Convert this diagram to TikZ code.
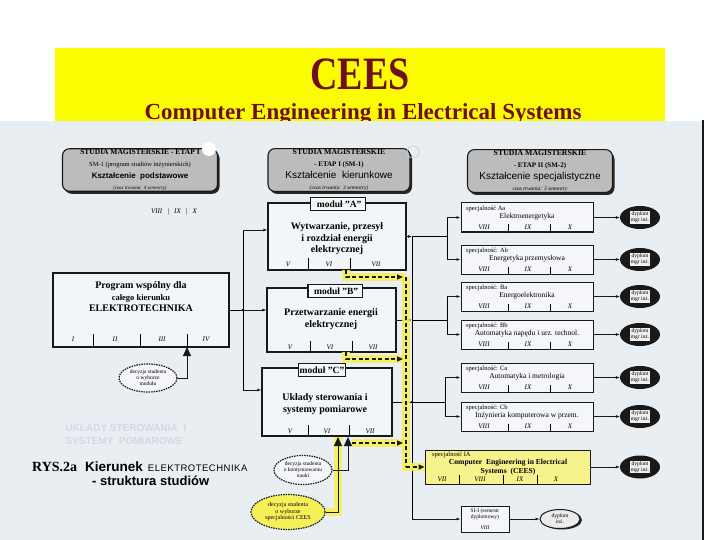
\documentclass[tikz,border=0pt]{standalone}
\usepackage{fontspec}
\setmainfont{Liberation Serif}
\setsansfont{Liberation Sans}
\usetikzlibrary{arrows.meta,shapes.geometric,shadows}
\definecolor{titlered}{RGB}{110,14,30}
\definecolor{slideyellow}{RGB}{252,252,0}
\definecolor{scanbg}{RGB}{233,238,243}
\definecolor{hlyellow}{RGB}{245,240,90}
\definecolor{iafill}{RGB}{246,242,140}
\definecolor{hdrgray}{RGB}{188,188,188}
\definecolor{ink}{RGB}{25,25,25}
\definecolor{faint}{RGB}{210,217,226}
\newcommand\fsz[2]{\fontsize{#1}{#2}\selectfont}
\tikzset{
  hdr/.style={draw=ink, line width=1.1pt, rounded corners=7pt, fill=hdrgray, align=center, inner sep=1pt,
    drop shadow={shadow xshift=2pt, shadow yshift=-2.5pt, fill=black!85, opacity=1}},
  modbox/.style={draw=ink, line width=1.2pt, fill=white!45!scanbg, inner sep=0pt},
  tabbox/.style={draw=ink, line width=1.2pt, fill=white!60!scanbg, font=\fsz{9.5}{10}\bfseries, inner sep=1.5pt, minimum height=13pt},
  modtxt/.style={font=\fsz{10}{11.5}\bfseries, align=center, inner sep=0pt},
  sem/.style={font=\fsz{7}{7.5}\itshape, inner sep=0pt},
  spec/.style={draw=ink, line width=1pt, fill=white!50!scanbg, minimum width=132pt, minimum height=29pt, inner sep=0pt},
  dipl/.style={ellipse, fill=ink, minimum width=40pt, minimum height=23pt, inner sep=0pt},
  dipllab/.style={fill=white!88!gray, font=\fsz{5.5}{6}, align=center, inner sep=0.8pt},
  dec/.style={ellipse, draw=ink, line width=1.2pt, dash pattern=on 1.5pt off 1pt, align=center, font=\fsz{5.5}{6}, inner sep=0pt, fill=white!50!scanbg},
  arr/.style={-{Latex[length=4pt,width=3pt]}, line width=0.6pt, draw=ink},
  bigarr/.style={-{Triangle[length=9pt,width=8pt]}, line width=0.9pt, draw=ink},
  glow/.style={line width=8pt, draw=hlyellow, opacity=0.9},
  dsh/.style={dash pattern=on 4pt off 2.5pt, line width=1.3pt, draw=ink},
  dsharr/.style={dsh, -{Triangle[length=6pt,width=5pt]}}
}
\newcommand\Spec[4]{%
  \node[spec] (#1) at (527,#2) {};
  \node[font=\fsz{6.5}{7}, anchor=west, inner sep=0pt] (#1t) at (466,#2-9) {#3};
  \node[font=\fsz{7.5}{8}, inner sep=0pt] (#1n) at (527,#2-1) {#4};
  \foreach \t/\x [count=\i] in {VIII/484,IX/528,X/570}
    \node[sem] (#1s\i) at (\x,#2+9.5) {\t};
  \draw[line width=0.5pt] (508,#2+14.5) -- (508,#2+7) (550,#2+14.5) -- (550,#2+7);
  \node[dipl] (#1d) at (640,#2) {};
  \node[dipllab] (#1dl) at (#1d) {dyplom\\mgr inż.};
  \draw[arr] (#1) -- (#1d);
}
\begin{document}
\begin{tikzpicture}[x=1pt,y=-1pt]
\useasboundingbox (0,0) rectangle (720,540);
\fill[white] (0,0) rectangle (720,540);
% slide title
\fill[slideyellow] (55,48) rectangle (665,122);
\node[text=titlered, font=\fsz{38}{40}\bfseries, inner sep=0pt] (title) at (360,74) {\scalebox{1}[1.22]{CEES}};
\node[text=titlered, font=\fsz{23}{24}\bfseries, inner sep=0pt] (subtitle) at (363,114) {Computer Engineering in Electrical Systems};
% scanned page
\fill[scanbg] (0,121) rectangle (703,540);
\draw[ink, line width=1.5pt] (703,120) -- (703,540);

% faint show-through text
\node[text=faint, font=\fsz{10}{13}\sffamily\bfseries, align=left, anchor=west] (ghost) at (62,435) {UKŁADY\ STEROWANIA\ \ I\\SYSTEMY\ \ POMIAROWE};

% header boxes
\node[hdr, minimum width=155pt, minimum height=37pt] (H1) at (140,170)
  {{\fsz{7.5}{8}\bfseries STUDIA MAGISTERSKIE - ETAP I}\\[-0.5pt]
   {\fsz{6.5}{7}SM-1 (program studiów inżynierskich)}\\[0pt]
   {\fsz{8}{9}\sffamily\bfseries Kształcenie\ \ podstawowe}\\[-1pt]
   {\fsz{5}{5.5}\itshape (czas trwania: 4 semestry)}};
\node[hdr, minimum width=142pt, minimum height=40pt] (H2) at (339,170)
  {{\fsz{7.8}{8.5}\bfseries STUDIA MAGISTERSKIE}\\[-0.5pt]
   {\fsz{7}{7.5}\bfseries - ETAP I (SM-1)}\\[0pt]
   {\fsz{10}{11}\sffamily Kształcenie\ \ kierunkowe}\\[-1pt]
   {\fsz{5.5}{6}\itshape (czas trwania: 3 semestry)}};
\node[hdr, minimum width=145pt, minimum height=38pt] (H3) at (540,171)
  {{\fsz{7.8}{8.5}\bfseries STUDIA MAGISTERSKIE}\\[-0.5pt]
   {\fsz{7}{7.5}\bfseries - ETAP II (SM-2)}\\[0pt]
   {\fsz{10}{11}\sffamily Kształcenie specjalistyczne}\\[-1pt]
   {\fsz{5.5}{6}\itshape czas trwania: 3 semestry}};
\fill[white] (209,149) circle (7);
\draw[gray!40, line width=0.6pt] (413,152) circle (6);
\node[sem] (stray) at (174,212) {VIII\ \ \ \textup{|}\ \ \ IX\ \ \ \textup{|}\ \ \ X};

% common program
\node[modbox, minimum width=176pt, minimum height=74pt] (prog) at (141,310) {};
\node[font=\fsz{10}{11.5}\bfseries, align=center, inner sep=0pt] (progt) at (141,297)
  {Program wspólny dla\\{\fsz{8.5}{11}całego kierunku}\\ELEKTROTECHNIKA};
\foreach \t/\x [count=\i] in {I/73,II/115,III/162,IV/206}
  \node[sem] (semP\i) at (\x,339) {\t};
\foreach \x in {93,140,187} \draw[line width=0.5pt] (\x,347) -- (\x,334);
\coordinate (pIV) at (187,347);
\node[dec, minimum width=58pt, minimum height=28pt] (decM) at (148,378) {decyzja studenta\\o wyborze\\modułu};
\draw[bigarr] (decM.east) -| (pIV);

% modules
\node[modbox, minimum width=138pt, minimum height=67pt] (modA) at (337,236.5) {};
\node[tabbox] (tabA) at (338,204) {\ \ moduł "A"\ \ };
\node[modtxt] (txtA) at (337,239) {Wytwarzanie, przesył\\i rozdział energii\\elektrycznej};
\foreach \t/\x [count=\i] in {V/288,VI/329,VII/376}
  \node[sem] (semA\i) at (\x,264.5) {\t};
\foreach \x in {308,350} \draw[line width=0.5pt] (\x,270) -- (\x,258);

\node[modbox, minimum width=129pt, minimum height=64pt] (modB) at (331.5,320) {};
\node[tabbox] (tabB) at (335,291) {\ \ moduł "B"\ \ };
\node[modtxt] (txtB) at (331,319) {Przetwarzanie energii\\elektrycznej};
\foreach \t/\x [count=\i] in {V/290,VI/330,VII/373}
  \node[sem] (semB\i) at (\x,347) {\t};
\foreach \x in {310,352} \draw[line width=0.5pt] (\x,352) -- (\x,341);

\node[modbox, minimum width=130pt, minimum height=68pt] (modC) at (327,402) {};
\node[tabbox] (tabC) at (322,370) {moduł "C"};
\node[modtxt] (txtC) at (325,404) {Układy sterowania i\\systemy pomiarowe};
\foreach \t/\x [count=\i] in {V/290,VI/327,VII/370}
  \node[sem] (semC\i) at (\x,431) {\t};
\foreach \x in {308,349} \draw[line width=0.5pt] (\x,436) -- (\x,425);

% left distribution
\coordinate (vA) at (243,230);
\coordinate (vB) at (243,310);
\coordinate (vC) at (243,390);
\draw[line width=0.6pt] (vA) -- (vC);
\draw[line width=0.6pt] (prog.east) -- (vB);
\fill (vB) circle (1.4);
\draw[arr] (vA) -- (vA -| modA.west);
\draw[arr] (vB) -- (vB -| modB.west);
\draw[arr] (vC) -- (vC -| modC.west);

% specialisations
\Spec{Aa}{217.5}{specjalność Aa}{Elektroenergetyka}
\Spec{Ab}{259.5}{specjalność: Ab}{Energetyka przemysłowa}
\Spec{Ba}{296.5}{specjalność: Ba}{Energoelektronika}
\Spec{Bb}{334.5}{specjalność: Bb}{Automatyka napędu i urz. technol.}
\Spec{Ca}{377.5}{specjalność: Ca}{Automatyka i metrologia}
\Spec{Cb}{416.5}{specjalność: Cb}{Inżynieria komputerowa w przem.}

% CEES specialisation
\node[spec, fill=iafill, minimum width=165pt, minimum height=34pt] (IA) at (507.5,467) {};
\node[font=\fsz{6.5}{7}, anchor=west, inner sep=0pt] (IAt) at (432,455) {specjalność IA};
\node[font=\fsz{7.6}{8.5}\bfseries, align=center, inner sep=0pt] (IAn) at (508,467) {Computer\ \ Engineering\ in\ Electrical\\Systems\ \ (CEES)};
\foreach \t/\x [count=\i] in {VII/442,VIII/480,IX/520,X/556}
  \node[sem] (IAs\i) at (\x,479.5) {\t};
\foreach \x in {459,503,537} \draw[line width=0.5pt] (\x,484) -- (\x,475);
\node[dipl] (IAd) at (640,467) {};
\node[dipllab] (IAdl) at (IAd) {dyplom\\mgr inż.};
\draw[arr] (IA) -- (IAd);

% SI-I
\node[spec, minimum width=48pt, minimum height=26pt] (SI) at (485,519) {};
\node[font=\fsz{5.5}{6}, align=center, inner sep=0pt] (SIt) at (485,514) {SI-I (semestr\\dyplomowy)};
\node[sem, font=\fsz{5.5}{6}\itshape] (SIs) at (485,527.5) {VIII};
\node[ellipse, draw=ink, line width=1pt, fill=white!85!gray, minimum width=40pt, minimum height=19pt, inner sep=0pt,
  drop shadow={shadow xshift=2pt, shadow yshift=-1pt, fill=black!85, opacity=1}] (SId) at (560,519) {};
\node[font=\fsz{5.5}{6}, align=center, inner sep=0pt] (SIdl) at (SId) {dyplom\\inż.};
\draw[arr] (SI) -- (SId);

% module -> specialisation brackets
\coordinate (bA) at (447,0);
\coordinate (bB) at (447,0);
\coordinate (bC) at (445,0);
\coordinate (jA) at (412,236.5);
\coordinate (jS) at (412,519);
\draw[arr] (modA.east) -- (jA);
\draw[line width=0.6pt] (jA) -- (jA -| bA);
\draw[line width=0.6pt] (bA |- Aa.west) -- (bA |- Ab.west);
\draw[arr] (bA |- Aa.west) -- (Aa.west);
\draw[arr] (bA |- Ab.west) -- (Ab.west);
\draw[arr] (modB.east) -- (modB.east -| jA);
\draw[line width=0.6pt] (modB.east -| jA) -- (modB.east -| bB);
\draw[line width=0.6pt] (bB |- Ba.west) -- (bB |- Bb.west);
\draw[arr] (bB |- Ba.west) -- (Ba.west);
\draw[arr] (bB |- Bb.west) -- (Bb.west);
\draw[line width=0.6pt] (modC.east) -- (modC.east -| bC);
\fill (modC.east -| jA) circle (1.3);
\draw[line width=0.6pt] (bC |- Ca.west) -- (bC |- Cb.west);
\draw[arr] (bC |- Ca.west) -- (Ca.west);
\draw[arr] (bC |- Cb.west) -- (Cb.west);
\draw[line width=0.6pt] (jA) -- (jS);
\draw[arr] (jS) -- (SI.west);

% decisions under module C
\node[dec, minimum width=58pt, minimum height=29pt] (decK) at (303,470) {decyzja studenta\\o kontynuowaniu\\nauki};
\node[dec, fill=hlyellow, minimum width=74pt, minimum height=35pt, font=\fsz{6}{6.5}] (decC) at (288,512) {decyzja studenta\\o wyborze\\specjalności CEES};
\coordinate (cVI) at (338,437);
\coordinate (cVII) at (348,437);

% yellow highlighted CEES path
\coordinate (yA) at (346,270);
\coordinate (yB) at (346,352);
\coordinate (yC) at (352,443);
\coordinate (yT) at (406,277);
\coordinate (yEnd) at (406,467);
\draw[glow] (yA) -- (346,277) -- (yT);
\draw[glow] (yT) -- (yEnd) -- (IA.west);
\draw[glow] (yB) -- (346,359) -- (406,359);
\draw[glow] (yC) -- (406,443);
\draw[glow] (decC.east) -| (cVI);
\draw[dsharr] (yA) |- (403,277);
\draw[dsh] (yT) -- (yEnd);
\draw[dsharr] (yEnd) -- (IA.west);
\draw[dsharr] (yB) |- (403,359);
\draw[dsharr] (yC) -- (403,443);
\draw[bigarr] (decK.east) -| (cVII);
\draw[bigarr] (decC.east) -| (cVI);

% caption
\node[anchor=west, inner sep=0pt] (cap1) at (32,467)
  {{\fsz{14}{15}\bfseries RYS.2a}\hspace{8pt}{\fsz{13.5}{15}\sffamily\bfseries Kierunek}\hspace{5pt}{\fsz{9.5}{15}\sffamily E\kern0.5pt L\kern0.5pt E\kern0.5pt K\kern0.5pt T\kern0.5pt R\kern0.5pt O\kern0.5pt T\kern0.5pt E\kern0.5pt C\kern0.5pt H\kern0.5pt N\kern0.5pt I\kern0.5pt K\kern0.5pt A}};
\node[anchor=west, inner sep=0pt] (cap2) at (92,481)
  {\fsz{13}{15}\sffamily\bfseries - struktura studiów};
\end{tikzpicture}
\end{document}
